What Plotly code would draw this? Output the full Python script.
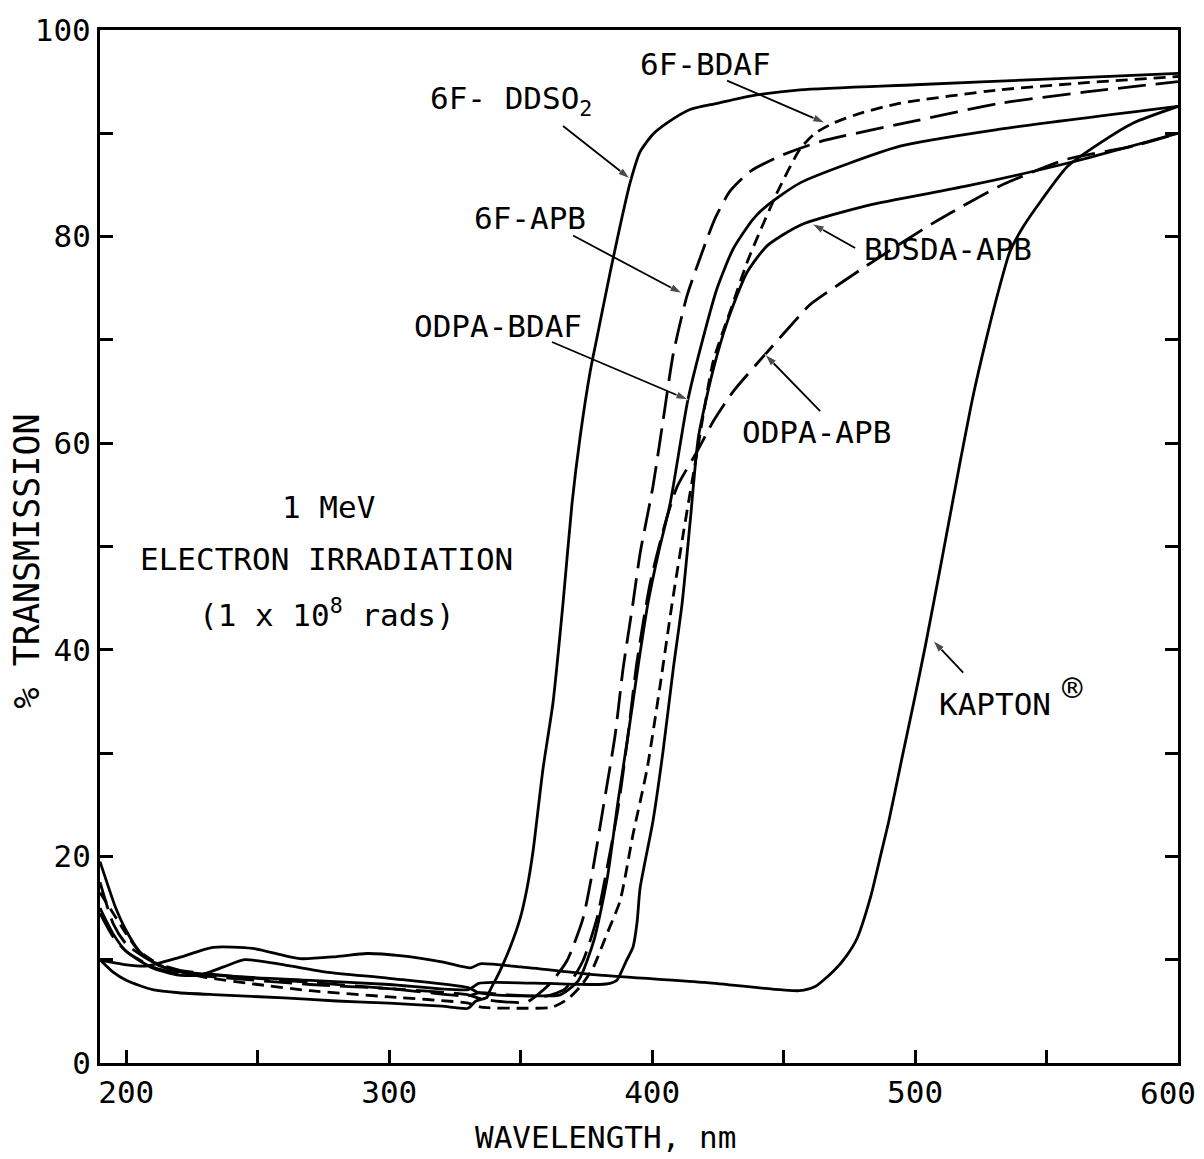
import plotly.graph_objects as go

# ---------------- data ----------------
ddso2_x = [190, 195, 200, 205, 210, 220, 235, 260, 280, 300, 320, 330, 333, 337.2, 338.3, 342.1, 346, 349.8, 352.4,
           354.7, 358.5, 362.3, 366.1, 369.5, 372.6, 376.4, 379, 384, 386.6, 389, 391.6, 395.4, 400.3, 405.7,
           414.4, 424.7, 437.2, 456.3, 500, 550, 600]
ddso2_y = [10.0, 8.8, 8.0, 7.5, 7.1, 6.8, 6.6, 6.3, 6.0, 5.8, 5.5, 5.3, 6.0, 6.35, 7.0, 8.9, 11.2, 14.0, 16.9,
           20.5, 28.5, 34.9, 44.5, 54.1, 60.6, 66.9, 70.2, 76.5, 79.6, 82.4, 85.2, 88.2, 89.9, 91.0,
           92.3, 92.9, 93.6, 94.2, 94.7, 95.25, 95.8]

bdaf6f_x = [190, 195, 200, 205, 215, 230, 250, 270, 300, 330, 335, 350, 362, 368, 373, 377.5, 382.8, 387.8, 392.7,
            398.1, 403, 407.6, 412, 417, 423.2, 430, 436.1, 441, 448, 456.3, 462, 469, 480, 494, 532, 565, 600]
bdaf6f_y = [16.5, 14.5, 12.5, 10.8, 9.2, 8.3, 7.6, 7.0, 6.4, 5.8, 5.4, 5.3, 5.4, 6.2, 7.5, 9.2, 12.5, 15.7, 22.1,
            28.5, 36.5, 44.5, 51.5, 59, 67.9, 73, 77.5, 80.5, 84.5, 88.5, 90, 91, 92, 92.9, 94.2, 94.9, 95.5]

apb6f_x = [190, 195, 200, 210, 220, 240, 270, 300, 330, 335, 345, 352.4, 361.2, 367.6, 373.7, 377.5, 381.3, 385.9,
           388.9, 392.7, 395.4, 400.3, 404.1, 408, 413.3, 420.9, 424.2, 429.6, 437.2, 448.6, 463.9, 500, 532.3,
           565, 600]
apb6f_y = [14.5, 12.2, 10.8, 9.3, 8.7, 8.2, 7.6, 7.2, 6.6, 6.2, 5.9, 5.9, 7.7, 9.9, 14.0, 18.8, 24.6, 31.7,
           38.1, 44.5, 49.3, 55.8, 62.1, 68.6, 74.3, 79.8, 81.9, 84.4, 86.3, 87.8, 89.2, 91.2, 92.9,
           94.0, 95.0]

odpa_bdaf_x = [190, 195, 200, 210, 220, 228, 237, 245, 260, 276, 300, 330, 334, 340, 355, 365, 372, 378, 383, 387,
               391, 395, 398.4, 402.5, 406.8, 413.6, 419.4, 424.7, 430.8, 438.4, 443.7, 456.3, 494.3, 532.3, 600]
odpa_bdaf_y = [15.0, 12.5, 10.8, 9.2, 8.5, 8.5, 9.3, 10.0, 9.5, 8.8, 8.2, 7.3, 6.8, 6.6, 6.5, 6.6, 8.0, 12, 18, 25.3,
               32, 39, 44.5, 49.5, 54.1, 64.2, 70.2, 75, 78.8, 81.7, 83, 85.2, 88.75, 90.4, 92.6]

bdsda_apb_x = [190, 193, 196, 200, 205, 212, 220, 240, 270, 300, 330, 334, 340, 360, 380, 384, 386.6, 390, 392.7,
               394.3, 395.4, 400.3, 404.1, 408, 411.4, 414.5, 417.6, 423, 428.5, 436, 443.7, 456.3, 481.7, 519.8,
               557.8, 600]
bdsda_apb_y = [19.5, 17.2, 15.0, 12.8, 10.8, 9.5, 8.9, 8.4, 8.0, 7.6, 7.1, 7.7, 7.8, 7.7, 7.6, 7.7, 8.0, 9.8, 11.2,
               13.7, 16.9, 23.4, 30.1, 38.1, 44.5, 52.5, 60.6, 66.9, 71.7, 76.5, 79.1, 81.1, 83, 84.9,
               87.1, 90.0]

odpa_apb_x = [190, 195, 200, 210, 220, 240, 270, 300, 330, 334, 345, 360, 367, 373.7, 379, 382.8, 387, 390.8, 394.2,
              399.2, 404.9, 409.5, 417.1, 423.2, 430.8, 443, 456.3, 460, 481.7, 506.8, 532.3, 557.8, 582.9, 600]
odpa_apb_y = [17.5, 13.5, 11.5, 9.8, 9.0, 8.4, 7.8, 7.2, 6.5, 6.8, 6.6, 6.5, 7.2, 9.9, 14.0, 18.8, 24.6, 31.7, 38.8,
              46.4, 52.2, 55.8, 59.2, 62.1, 65, 68.6, 72.4, 73.4, 77.2, 81.3, 84.9, 87.5, 88.75, 90.0]

kapton_x = [190.8, 200, 208, 220, 233, 248, 266, 280, 291.5, 304, 320, 331, 334.5, 350, 380, 420, 456, 462, 469, 474,
            478, 483, 487, 490, 495, 500, 504, 510, 517, 522, 527, 532, 536, 541, 548, 558, 570, 583, 600]
kapton_y = [9.9, 9.5, 9.4, 10.2, 11.2, 11.1, 10.1, 10.3, 10.6, 10.4, 9.8, 9.2, 9.6, 9.3, 8.5, 7.8, 7.0, 7.4, 8.9, 10.4,
            12.1, 16, 20.2, 23.4, 29.5, 35.5, 40.5, 48.5, 58, 64.5, 70, 75, 78.5, 80.9, 83.5, 86.8, 89, 91, 92.6]

series = [
    ("6F-DDSO2", ddso2_x, ddso2_y, "solid"),
    ("6F-BDAF", bdaf6f_x, bdaf6f_y, "12px,7px"),
    ("6F-APB", apb6f_x, apb6f_y, "28px,10px"),
    ("ODPA-BDAF", odpa_bdaf_x, odpa_bdaf_y, "solid"),
    ("BDSDA-APB", bdsda_apb_x, bdsda_apb_y, "solid"),
    ("ODPA-APB", odpa_apb_x, odpa_apb_y, "28px,10px"),
    ("KAPTON", kapton_x, kapton_y, "solid"),
]

# label text, label anchor (x, y), arrow tail (x, y), arrow head (x, y)
labels = [
    ("6F- DDSO<sub>2</sub>", 314.8, 93.2, 366.1, 90.7, 391.6, 85.6),
    ("6F-BDAF", 394.6, 96.7, 428.5, 95.1, 465.8, 91.0),
    ("6F-APB", 331.5, 81.8, 369.9, 80.1, 411.4, 74.5),
    ("ODPA-BDAF", 308.7, 71.3, 361.9, 69.8, 413.7, 64.2),
    ("BDSDA-APB", 479.8, 78.8, 477.2, 78.9, 460.8, 81.25),
    ("ODPA-APB", 433.4, 61.1, 463.9, 63.1, 442.9, 68.6),
    ("KAPTON", 508.4, 34.8, 518.3, 37.8, 506.8, 40.9),
]

x_ticks = [200, 300, 400, 500]
x_last_tick = 600
y_ticks = [0, 20, 40, 60, 80, 100]

FONT = "DejaVu Sans Mono"

fig = go.Figure()
for name, xs, ys, dash in series:
    fig.add_trace(go.Scatter(x=xs, y=ys, mode="lines", name=name,
                             line=dict(color="black", width=2.8, dash=dash, shape="spline", smoothing=0.6),
                             showlegend=False, hoverinfo="skip"))

for text, lx, ly, tx, ty, hx, hy in labels:
    fig.add_annotation(x=lx, y=ly, xref="x", yref="y", text=text, showarrow=False,
                       xanchor="left", yanchor="middle", font=dict(family=FONT, size=31, color="black"))
    fig.add_trace(go.Scatter(x=[tx, hx], y=[ty, hy], mode="lines+markers",
                             line=dict(color="black", width=1.8),
                             marker=dict(symbol="arrow", angleref="previous", size=[0, 13], color="black"),
                             showlegend=False, hoverinfo="skip"))

fig.add_annotation(x=559.7, y=36.3, xref="x", yref="y", text="®", showarrow=False,
                   xanchor="center", yanchor="middle", font=dict(family=FONT, size=34, color="black"))

fig.add_annotation(x=276.8, y=53.8, xref="x", yref="y", text="1 MeV", showarrow=False,
                   xanchor="center", yanchor="middle", font=dict(family=FONT, size=31, color="black"))
fig.add_annotation(x=276.3, y=48.8, xref="x", yref="y", text="ELECTRON IRRADIATION", showarrow=False,
                   xanchor="center", yanchor="middle", font=dict(family=FONT, size=31, color="black"))
fig.add_annotation(x=276.3, y=43.6, xref="x", yref="y", text="(1 x 10<sup>8</sup> rads)", showarrow=False,
                   xanchor="center", yanchor="middle", font=dict(family=FONT, size=31, color="black"))

# last x tick label (drawn as annotation so it is not clipped at the page edge)
fig.add_annotation(x=x_last_tick, y=0, xref="x", yref="paper", text=str(x_last_tick), showarrow=False,
                   xanchor="right", yanchor="top", xshift=20, yshift=-10,
                   font=dict(family=FONT, size=31, color="black"))

# axis titles
fig.add_annotation(x=0.4685, y=-0.0712, xref="paper", yref="paper", text="WAVELENGTH, nm", showarrow=False,
                   xanchor="center", yanchor="middle", font=dict(family=FONT, size=31, color="black"))
fig.add_annotation(x=-0.0677, y=0.4856, xref="paper", yref="paper", text="% TRANSMISSION", showarrow=False,
                   textangle=-90, xanchor="center", yanchor="middle", font=dict(family=FONT, size=35, color="black"))

fig.update_xaxes(range=[190, 600], tickvals=x_ticks, ticktext=[str(v) for v in x_ticks],
                 ticks="inside", ticklen=13, tickwidth=3, tickcolor="black",
                 minor=dict(dtick=50, tick0=200, ticks="inside", ticklen=13, tickwidth=3, tickcolor="black"),
                 showline=True, linewidth=3, linecolor="black", mirror=True, showgrid=False, zeroline=False,
                 tickfont=dict(family=FONT, size=31, color="black"))
fig.update_yaxes(range=[0, 100], tickvals=y_ticks, ticktext=[str(v) for v in y_ticks],
                 ticks="inside", ticklen=13, tickwidth=3, tickcolor="black",
                 minor=dict(dtick=10, tick0=0, ticks="inside", ticklen=13, tickwidth=3, tickcolor="black"),
                 showline=True, linewidth=3, linecolor="black", mirror="ticks", showgrid=False, zeroline=False,
                 tickfont=dict(family=FONT, size=31, color="black"))

fig.update_layout(width=1204, height=1159, margin=dict(l=100, r=26, t=23, b=96),
                  paper_bgcolor="white", plot_bgcolor="white", showlegend=False)

fig.write_html("out.html")
